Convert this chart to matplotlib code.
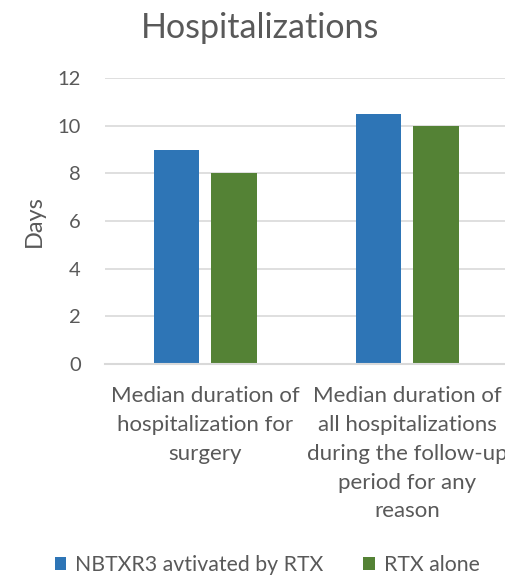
import matplotlib
matplotlib.use("Agg")
import matplotlib.pyplot as plt
import numpy as np

categories = ["Median duration of\nhospitalization for\nsurgery",
              "Median duration of\nall hospitalizations\nduring the follow-up\nperiod for any\nreason"]
series_names = ["NBTXR3 avtivated by RTX", "RTX alone"]
nbtxr3 = [9, 10.5]
rtx_alone = [8, 10]
yticks = [0, 2, 4, 6, 8, 10, 12]

plt.rcParams['font.family'] = ['Lato', 'DejaVu Sans']
TXT = '#595959'
W, H = 505, 577
fig = plt.figure(figsize=(W/100, H/100), dpi=100)
ax = fig.add_axes([104.5/W, (H-364)/H, 404/W, 286/H])

x = np.arange(len(categories))
bw = 0.225
ax.bar(x - 0.1436, nbtxr3, width=bw, color='#2E75B6', label=series_names[0], zorder=3)
ax.bar(x + 0.141, rtx_alone, width=bw, color='#548235', label=series_names[1], zorder=3)

ax.set_xlim(-0.5, 1.5)
ax.set_ylim(0, 12)
ax.set_yticks(yticks)
ax.yaxis.grid(True, color='#D9D9D9', lw=1.2, zorder=0)
for s in ['top', 'right', 'left']:
    ax.spines[s].set_visible(False)
ax.spines['bottom'].set_color('#D9D9D9')
ax.spines['bottom'].set_linewidth(1.5)
ax.spines['bottom'].set_zorder(4)
ax.tick_params(axis='y', length=0, pad=17, labelsize=14.5, labelcolor=TXT)
ax.tick_params(axis='x', length=0, pad=16, labelsize=16, labelcolor=TXT)
ax.set_xticks(x)
ax.set_xticklabels(categories, linespacing=1.55)
ax.set_ylabel('Days', fontsize=17, color=TXT, labelpad=9)

fig.text(260/W, 1 - 28/H, 'Hospitalizations', ha='center', va='center', fontsize=24.5, color=TXT)

fig.legend(loc='center', bbox_to_anchor=(267/W, 1 - 565/H), ncol=2, frameon=False,
           fontsize=15.3, labelcolor=TXT, handlelength=0.55, handleheight=0.55,
           handletextpad=0.4, columnspacing=1.9)

fig.savefig('out.png', dpi=100)
